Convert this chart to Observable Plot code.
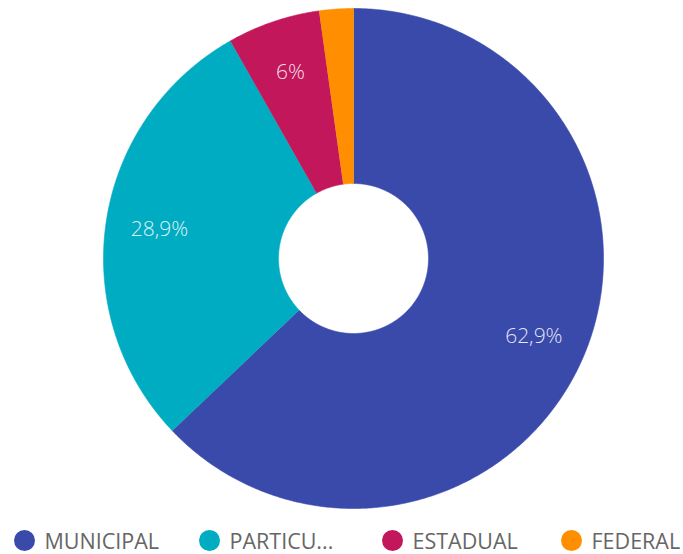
<!DOCTYPE html>
<html>
<head>
<meta charset="utf-8">
<script src="https://cdn.jsdelivr.net/npm/d3@7"></script>
<script src="https://cdn.jsdelivr.net/npm/@observablehq/plot@0.6"></script>
<style>
  body { margin: 0; background: #fff; width: 683px; height: 554px; overflow: hidden; position: relative; }
  #chart svg { display: block; }
  .legend { position: absolute; left: 0; top: 520px; width: 683px; height: 34px; font-family: "Open Sans", sans-serif; font-size: 21.5px; color: #666; }
  .item { position: absolute; top: 0; display: flex; align-items: center; height: 40px; white-space: nowrap; }
  .dot { width: 21px; height: 21px; border-radius: 50%; margin-right: 0; }
  .txt { position: relative; left: 10px; }
</style>
</head>
<body>
<div id="chart"></div>
<div class="legend" id="legend"></div>
<script>
const categories = ["MUNICIPAL", "PARTICULAR", "ESTADUAL", "FEDERAL"];
const legendLabels = ["MUNICIPAL", "PARTICU...", "ESTADUAL", "FEDERAL"];
const values = [62.9, 28.9, 6.0, 2.2];
const valueLabels = ["62,9%", "28,9%", "6%", ""];
const colors = ["#3A4AAB", "#00ACC1", "#C2185B", "#FF8F00"];

const innerRatio = 0.3;
const labelRadius = 0.785;
const total = d3.sum(values);

// build slice polygons from the data
const polys = [];
const labels = [];
let acc = 0;
values.forEach((v, i) => {
  const a0 = acc / total * 2 * Math.PI;
  const a1 = (acc + v) / total * 2 * Math.PI;
  acc += v;
  const n = Math.max(8, Math.ceil((a1 - a0) / (2 * Math.PI) * 720));
  for (let k = 0; k <= n; k++) {
    const a = a0 + (a1 - a0) * k / n;
    polys.push({cat: categories[i], x: Math.sin(a), y: Math.cos(a)});
  }
  for (let k = n; k >= 0; k--) {
    const a = a0 + (a1 - a0) * k / n;
    polys.push({cat: categories[i], x: innerRatio * Math.sin(a), y: innerRatio * Math.cos(a)});
  }
  const am = (a0 + a1) / 2;
  labels.push({cat: categories[i], text: valueLabels[i], x: labelRadius * Math.sin(am), y: labelRadius * Math.cos(am)});
});

const plot = Plot.plot({
  width: 683,
  height: 520,
  margin: 0,
  x: {domain: [-1, 1], range: [103, 603], axis: null},
  y: {domain: [-1, 1], range: [508, 8], axis: null},
  color: {domain: categories, range: colors},
  style: {background: "#fff"},
  marks: [
    Plot.line(polys, {x: "x", y: "y", z: "cat", fill: "cat", stroke: "cat", strokeWidth: 0.6, curve: "linear"}),
    Plot.text(labels, {x: "x", y: "y", text: "text", fill: "#ffffff", fillOpacity: 0.88, fontSize: 21, fontWeight: 300, fontFamily: "'Open Sans', sans-serif"})
  ]
});
document.getElementById("chart").appendChild(plot);

const dotX = [24, 209, 392, 571];
const legend = document.getElementById("legend");
legendLabels.forEach((l, i) => {
  const it = document.createElement("div");
  it.className = "item";
  it.style.left = (dotX[i] - 10.5) + "px";
  it.innerHTML = `<span class="dot" style="background:${colors[i]}"></span><span class="txt">${l}</span>`;
  legend.appendChild(it);
});
</script>
</body>
</html>
